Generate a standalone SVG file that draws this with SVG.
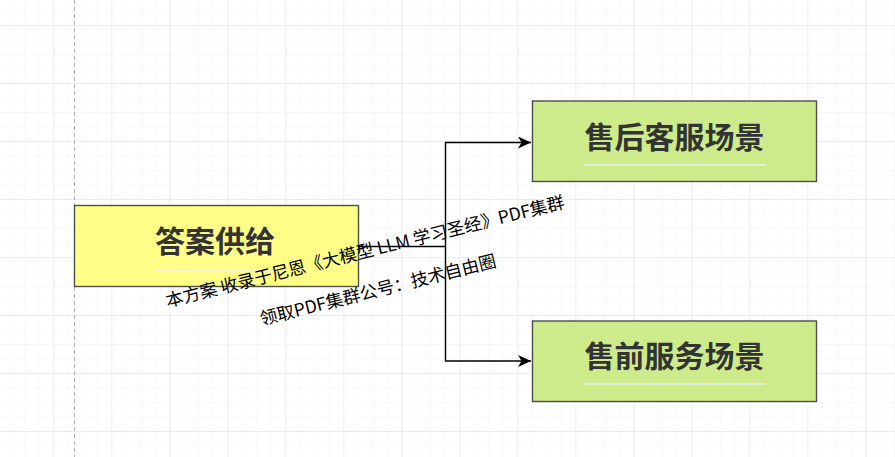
<svg xmlns="http://www.w3.org/2000/svg" width="895" height="457" viewBox="0 0 895 457">
<defs>
<pattern id="minor" x="9.5" y="10.5" width="14.5" height="14.5" patternUnits="userSpaceOnUse">
<path d="M0 0V14.5M0 0H14.5" fill="none" stroke="#f1f1f1" stroke-width="1"/>
</pattern>
<pattern id="major" x="53.5" y="25" width="58" height="58" patternUnits="userSpaceOnUse">
<path d="M0 0V58M0 0H58" fill="none" stroke="#e2e2e2" stroke-width="1"/>
</pattern>
<marker id="arrow" markerWidth="14" markerHeight="12" refX="13" refY="6" orient="auto" markerUnits="userSpaceOnUse">
<path d="M0 0L13 6L0 12L3.5 6Z" fill="#000"/>
</marker>
<style>
.box{stroke:#4d4d4d;stroke-width:1.4}
.yellow{fill:#ffff88}
.green{fill:#cdeb8b}
.title{font-family:"Noto Sans CJK SC","Noto Sans",sans-serif;font-weight:bold;font-size:30px;fill:#333;text-anchor:middle}
.uline{stroke:#eeeeee;stroke-width:1.6}
.conn{fill:none;stroke:#000;stroke-width:1.4}
.wm{font-family:"Noto Sans CJK SC","Noto Sans",sans-serif;font-size:17.5px;fill:#000;text-anchor:middle}
</style>
</defs>
<rect width="895" height="457" fill="#fff"/>
<rect width="895" height="457" fill="url(#minor)"/>
<rect width="895" height="457" fill="url(#major)"/>
<line x1="74.5" y1="0" x2="74.5" y2="457" stroke="#b0b0b0" stroke-width="1" stroke-dasharray="4 3"/>
<g id="connectors">
<path class="conn" d="M358.5 246.5H445.5V142.5H531" marker-end="url(#arrow)"/>
<path class="conn" d="M445.5 246.5V361H531" marker-end="url(#arrow)"/>
</g>
<g id="node-answer">
<rect class="box yellow" x="74.5" y="205.5" width="284" height="81"/>
<text class="title" x="215" y="252">答案供给</text>
<line class="uline" x1="156" y1="270" x2="274" y2="270"/>
</g>
<g id="node-aftersales">
<rect class="box green" x="532.5" y="101" width="284" height="80.5"/>
<text class="title" x="674.5" y="148">售后客服场景</text>
<line class="uline" x1="583" y1="165" x2="766" y2="165"/>
</g>
<g id="node-presales">
<rect class="box green" x="532.5" y="321" width="284" height="80.5"/>
<text class="title" x="674.5" y="367">售前服务场景</text>
<line class="uline" x1="583" y1="384" x2="766" y2="384"/>
</g>
<g id="watermark">
<text class="wm" x="366.5" y="257.5" transform="rotate(-14 366.5 257.5)">本方案 收录于尼恩《大模型 LLM 学习圣经》PDF集群</text>
<text class="wm" x="379.5" y="296" transform="rotate(-14 379.5 296)">领取PDF集群公号：技术自由圈</text>
</g>
</svg>
